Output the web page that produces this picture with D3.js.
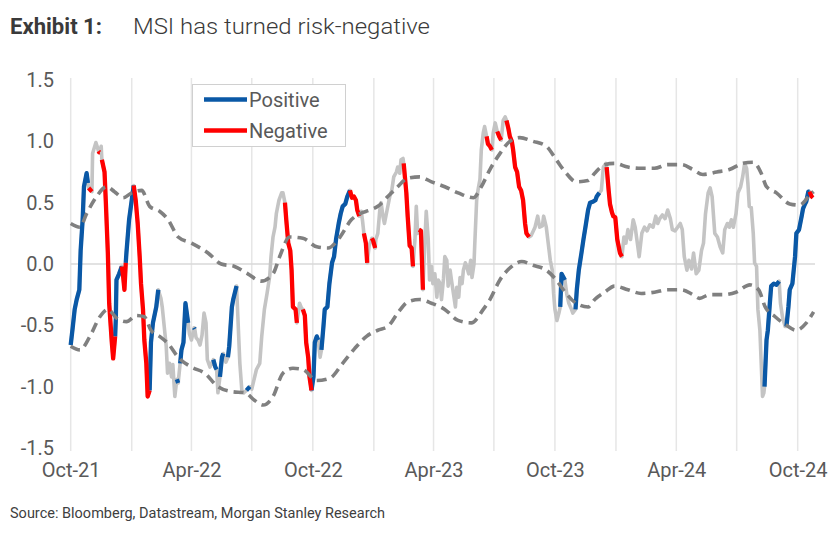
<!DOCTYPE html>
<html><head><meta charset="utf-8">
<script src="https://cdn.jsdelivr.net/npm/d3@7"></script>
<style>
body{margin:0;background:#fff;}
svg{display:block;font-family:Roboto,"Noto Sans",sans-serif;}
</style></head>
<body><svg id="c" width="837" height="552"></svg>
<script>
// ---- Data ----
const msiDates = [
"2021-10-01","2021-10-04","2021-10-07","2021-10-10","2021-10-14","2021-10-16","2021-10-19","2021-10-21","2021-10-25","2021-10-27",
"2021-10-28","2021-11-02","2021-11-03","2021-11-08","2021-11-12","2021-11-13","2021-11-14","2021-11-16","2021-11-17","2021-11-21",
"2021-11-23","2021-11-26","2021-11-28","2021-12-02","2021-12-04","2021-12-07","2021-12-08","2021-12-09","2021-12-13","2021-12-17",
"2021-12-19","2021-12-21","2021-12-23","2021-12-24","2021-12-28","2022-01-01","2022-01-04","2022-01-07","2022-01-10","2022-01-13",
"2022-01-15","2022-01-18","2022-01-20","2022-01-23","2022-01-25","2022-01-28","2022-01-30","2022-02-02","2022-02-07","2022-02-10",
"2022-02-14","2022-02-16","2022-02-22","2022-02-24","2022-02-27","2022-03-02","2022-03-04","2022-03-07","2022-03-10","2022-03-12",
"2022-03-15","2022-03-17","2022-03-20","2022-03-23","2022-03-27","2022-03-29","2022-04-01","2022-04-05","2022-04-06","2022-04-08",
"2022-04-11","2022-04-14","2022-04-17","2022-04-20","2022-04-23","2022-04-25","2022-04-29","2022-05-04","2022-05-07","2022-05-09",
"2022-05-11","2022-05-14","2022-05-17","2022-05-19","2022-05-23","2022-05-26","2022-05-28","2022-06-01","2022-06-03","2022-06-08",
"2022-06-10","2022-06-13","2022-06-16","2022-06-19","2022-06-23","2022-06-28","2022-07-01","2022-07-04","2022-07-08","2022-07-13",
"2022-07-16","2022-07-20","2022-07-24","2022-07-28","2022-07-30","2022-08-02","2022-08-05","2022-08-07","2022-08-11","2022-08-15",
"2022-08-17","2022-08-20","2022-08-22","2022-08-25","2022-08-28","2022-08-30","2022-09-01","2022-09-05","2022-09-07","2022-09-11",
"2022-09-14","2022-09-16","2022-09-19","2022-09-21","2022-09-24","2022-09-26","2022-09-29","2022-10-02","2022-10-04","2022-10-07",
"2022-10-09","2022-10-12","2022-10-14","2022-10-17","2022-10-19","2022-10-23","2022-10-26","2022-10-30","2022-11-02","2022-11-05",
"2022-11-09","2022-11-12","2022-11-15","2022-11-19","2022-11-22","2022-11-26","2022-11-29","2022-12-02","2022-12-05","2022-12-07",
"2022-12-10","2022-12-13","2022-12-15","2022-12-17","2022-12-20","2022-12-22","2022-12-25","2022-12-27","2022-12-29","2022-12-31",
"2023-01-03","2023-01-04","2023-01-07","2023-01-10","2023-01-12","2023-01-15","2023-01-17","2023-01-21","2023-01-25","2023-01-28",
"2023-01-31","2023-02-04","2023-02-06","2023-02-09","2023-02-11","2023-02-14","2023-02-15","2023-02-19","2023-02-21","2023-02-24",
"2023-02-27","2023-03-01","2023-03-04","2023-03-06","2023-03-08","2023-03-10","2023-03-13","2023-03-16","2023-03-19","2023-03-21",
"2023-03-24","2023-03-26","2023-03-29","2023-03-31","2023-04-03","2023-04-06","2023-04-08","2023-04-11","2023-04-13","2023-04-16",
"2023-04-18","2023-04-21","2023-04-23","2023-04-26","2023-04-28","2023-05-01","2023-05-04","2023-05-06","2023-05-09","2023-05-11",
"2023-05-14","2023-05-16","2023-05-19","2023-05-21","2023-05-24","2023-05-27","2023-05-29","2023-06-01","2023-06-02","2023-06-05",
"2023-06-07","2023-06-10","2023-06-12","2023-06-15","2023-06-17","2023-06-20","2023-06-22","2023-06-25","2023-06-28","2023-06-30",
"2023-07-03","2023-07-06","2023-07-09","2023-07-12","2023-07-15","2023-07-18","2023-07-20","2023-07-23","2023-07-25","2023-07-28",
"2023-07-30","2023-08-02","2023-08-05","2023-08-08","2023-08-11","2023-08-14","2023-08-17","2023-08-19","2023-08-23","2023-08-26",
"2023-09-01","2023-09-05","2023-09-08","2023-09-12","2023-09-14","2023-09-18","2023-09-22","2023-09-24","2023-09-27","2023-09-29",
"2023-10-01","2023-10-04","2023-10-07","2023-10-09","2023-10-11","2023-10-13","2023-10-16","2023-10-19","2023-10-22","2023-10-26",
"2023-10-28","2023-11-01","2023-11-03","2023-11-06","2023-11-10","2023-11-13","2023-11-16","2023-11-20","2023-11-23","2023-11-28",
"2023-12-01","2023-12-03","2023-12-07","2023-12-10","2023-12-13","2023-12-17","2023-12-18","2023-12-21","2023-12-23","2023-12-26",
"2023-12-28","2023-12-31","2024-01-03","2024-01-07","2024-01-10","2024-01-13","2024-01-16","2024-01-19","2024-01-23","2024-01-27",
"2024-01-30","2024-02-03","2024-02-05","2024-02-09","2024-02-13","2024-02-17","2024-02-21","2024-02-26","2024-03-01","2024-03-04",
"2024-03-07","2024-03-11","2024-03-15","2024-03-19","2024-03-23","2024-03-26","2024-03-30","2024-04-03","2024-04-07","2024-04-10",
"2024-04-13","2024-04-17","2024-04-20","2024-04-24","2024-04-27","2024-05-01","2024-05-05","2024-05-09","2024-05-12","2024-05-15",
"2024-05-19","2024-05-22","2024-05-25","2024-05-29","2024-06-02","2024-06-06","2024-06-10","2024-06-13","2024-06-17","2024-06-20",
"2024-06-23","2024-06-26","2024-06-30","2024-07-03","2024-07-07","2024-07-10","2024-07-13","2024-07-16","2024-07-18","2024-07-20",
"2024-07-23","2024-07-26","2024-07-28","2024-07-31","2024-08-02","2024-08-05","2024-08-07","2024-08-09","2024-08-11","2024-08-12",
"2024-08-15","2024-08-17","2024-08-20","2024-08-22","2024-08-26","2024-08-30","2024-09-03","2024-09-05","2024-09-08","2024-09-12",
"2024-09-14","2024-09-17","2024-09-19","2024-09-23","2024-09-27","2024-09-29","2024-10-03","2024-10-07","2024-10-09","2024-10-12",
"2024-10-14","2024-10-17","2024-10-19","2024-10-22","2024-10-24"
];
const msiValues = [
-0.66,-0.52,-0.37,-0.29,-0.21,0.11,0.36,0.63,0.74,0.66,
0.62,0.59,0.90,0.99,0.92,0.91,0.91,0.96,0.85,0.75,
0.50,0.09,-0.32,-0.64,-0.77,-0.59,-0.45,-0.13,-0.08,-0.02,
-0.10,-0.21,0.01,0.09,0.36,0.52,0.64,0.52,0.33,0.06,
-0.16,-0.37,-0.62,-0.81,-1.08,-1.03,-0.64,-0.48,-0.35,-0.21,
-0.28,-0.35,-0.67,-0.89,-0.81,-0.92,-0.82,-1.08,-0.94,-0.97,
-0.81,-0.70,-0.64,-0.32,-0.48,-0.57,-0.62,-0.52,-0.53,-0.60,
-0.62,-0.66,-0.58,-0.40,-0.48,-0.78,-0.84,-0.78,-0.84,-0.86,
-1.05,-0.92,-0.76,-0.73,-0.80,-0.76,-0.67,-0.35,-0.29,-0.18,
-0.43,-0.81,-1.03,-1.05,-1.03,-1.00,-1.02,-0.95,-0.86,-0.81,
-0.59,-0.37,-0.24,-0.10,0.06,0.22,0.30,0.41,0.52,0.58,
0.58,0.50,0.36,0.17,0.11,-0.05,-0.35,-0.37,-0.48,-0.32,
-0.36,-0.37,-0.42,-0.64,-0.76,-0.92,-1.03,-0.92,-0.64,-0.59,
-0.62,-0.76,-0.70,-0.51,-0.37,-0.35,-0.16,0.01,0.06,0.20,
0.33,0.41,0.47,0.49,0.55,0.60,0.54,0.55,0.52,0.44,
0.39,0.43,0.35,0.25,0.17,0.01,0.15,0.18,0.21,0.19,
0.13,0.20,0.25,0.44,0.50,0.38,0.33,0.44,0.55,0.60,
0.71,0.75,0.79,0.74,0.85,0.86,0.82,0.58,0.39,0.15,
0.13,-0.02,0.20,0.47,0.25,0.28,0.27,-0.21,0.20,0.43,
0.20,-0.13,-0.02,-0.16,-0.08,-0.27,-0.13,-0.16,-0.29,-0.12,
0.06,0.03,-0.18,-0.05,-0.13,-0.24,-0.35,-0.19,-0.27,-0.11,
-0.16,-0.05,0.01,-0.02,-0.08,0.03,-0.11,0.00,0.14,0.52,
0.60,0.69,0.93,1.07,1.12,1.04,0.98,0.96,0.93,1.07,
1.15,1.08,1.04,1.01,1.17,1.20,1.17,1.10,1.04,1.00,
0.93,0.79,0.75,0.63,0.60,0.52,0.33,0.25,0.22,0.23,
0.30,0.39,0.30,0.31,0.39,0.30,0.12,0.03,-0.05,-0.24,
-0.37,-0.46,-0.40,-0.35,-0.08,-0.10,-0.13,-0.25,-0.32,-0.37,
-0.40,-0.37,-0.21,-0.05,0.09,0.20,0.30,0.44,0.50,0.51,
0.52,0.55,0.58,0.60,0.79,0.82,0.79,0.60,0.49,0.42,
0.39,0.38,0.20,0.09,0.06,0.22,0.17,0.28,0.20,0.36,
0.30,0.14,0.06,0.25,0.30,0.27,0.32,0.30,0.39,0.33,
0.37,0.40,0.37,0.44,0.37,0.28,0.27,0.30,0.33,0.28,
0.06,-0.05,0.03,-0.04,0.09,-0.08,-0.05,0.11,0.17,0.41,
0.58,0.62,0.55,0.25,0.22,0.14,0.09,0.28,0.33,0.30,
0.36,0.30,0.41,0.58,0.63,0.71,0.82,0.78,0.65,0.47,
0.46,0.25,0.01,-0.02,-0.37,-0.54,-0.81,-1.08,-1.05,-1.00,
-0.62,-0.54,-0.32,-0.18,-0.16,-0.17,-0.14,-0.32,-0.43,-0.51,
-0.51,-0.35,-0.21,-0.16,0.06,0.25,0.28,0.39,0.45,0.49,
0.51,0.59,0.59,0.55,0.54
];
// Regime periods (start, end) in which the MSI line is coloured
const positivePeriods = [
["2021-10-01","2021-10-27"],["2021-12-07","2021-12-17"],["2021-12-23","2022-01-04"],
["2022-01-28","2022-02-10"],["2022-03-10","2022-03-12"],["2022-03-15","2022-03-27"],
["2022-04-05","2022-04-06"],["2022-05-04","2022-05-09"],["2022-05-14","2022-05-19"],
["2022-05-26","2022-06-08"],["2022-06-23","2022-06-28"],["2022-09-29","2022-10-09"],
["2022-10-14","2022-11-26"],["2023-10-09","2023-10-16"],["2023-11-01","2023-12-07"],
["2024-08-12","2024-09-03"],["2024-09-14","2024-10-19"]
];
const negativePeriods = [
["2021-10-28","2021-11-02"],["2021-11-12","2021-11-14"],["2021-11-17","2021-12-07"],
["2021-12-17","2021-12-23"],["2022-01-04","2022-01-28"],["2022-08-20","2022-09-07"],
["2022-09-16","2022-09-29"],["2022-11-26","2022-12-10"],["2022-12-17","2022-12-22"],
["2022-12-29","2023-01-03"],["2023-02-15","2023-03-01"],["2023-03-10","2023-03-16"],
["2023-06-20","2023-06-28"],["2023-07-06","2023-07-12"],["2023-07-20","2023-08-23"],
["2023-12-18","2024-01-10"],["2024-10-19","2024-10-24"]
];
const upperDates = ["2021-10-01","2021-10-15","2021-10-25","2021-11-09","2021-11-24","2021-12-06","2021-12-19","2022-01-01","2022-01-16","2022-01-28",
"2022-02-12","2022-02-25","2022-03-12","2022-04-01","2022-04-26","2022-05-16","2022-06-05","2022-06-25","2022-07-15","2022-08-02",
"2022-08-12","2022-08-27","2022-09-16","2022-10-07","2022-10-24","2022-11-11","2022-11-28","2022-12-11","2022-12-26","2023-01-07",
"2023-01-22","2023-02-06","2023-02-21","2023-03-11","2023-03-29","2023-04-18","2023-05-08","2023-05-31","2023-06-12","2023-06-25",
"2023-07-10","2023-07-25","2023-08-09","2023-08-29","2023-09-18","2023-10-03","2023-10-18","2023-11-02","2023-11-20","2023-11-30",
"2023-12-15","2023-12-30","2024-01-19","2024-02-08","2024-02-28","2024-03-19","2024-04-09","2024-04-26","2024-05-11","2024-06-01",
"2024-06-20","2024-07-10","2024-07-26","2024-08-07","2024-08-15","2024-08-30","2024-09-19","2024-10-04","2024-10-19","2024-10-25"];
const upperValues = [0.33,0.30,0.41,0.55,0.63,0.59,0.54,0.58,0.60,0.47,
0.43,0.36,0.22,0.17,0.09,0.00,-0.02,-0.08,-0.14,-0.08,
0.06,0.22,0.21,0.14,0.13,0.22,0.36,0.41,0.44,0.47,
0.55,0.63,0.70,0.71,0.67,0.63,0.58,0.54,0.63,0.77,
0.90,1.00,1.03,1.00,0.96,0.85,0.74,0.67,0.68,0.74,
0.81,0.82,0.79,0.78,0.78,0.81,0.81,0.77,0.73,0.75,
0.77,0.82,0.83,0.74,0.63,0.58,0.49,0.48,0.56,0.59];
const lowerDates = ["2021-10-01","2021-10-15","2021-10-30","2021-11-14","2021-11-26","2021-12-09","2021-12-24","2022-01-08","2022-01-20","2022-01-30",
"2022-02-12","2022-02-25","2022-03-12","2022-04-01","2022-04-21","2022-05-11","2022-05-31","2022-06-21","2022-07-05","2022-07-18",
"2022-08-02","2022-08-17","2022-09-01","2022-09-16","2022-10-07","2022-10-27","2022-11-15","2022-12-03","2022-12-21","2023-01-07",
"2023-01-22","2023-02-06","2023-02-21","2023-03-11","2023-03-29","2023-04-18","2023-05-08","2023-05-28","2023-06-15","2023-06-25",
"2023-07-10","2023-07-28","2023-08-12","2023-08-29","2023-09-18","2023-10-03","2023-10-18","2023-11-02","2023-11-20","2023-11-30",
"2023-12-15","2023-12-30","2024-01-19","2024-02-08","2024-02-28","2024-03-19","2024-04-09","2024-04-26","2024-05-06","2024-05-21",
"2024-06-10","2024-06-30","2024-07-21","2024-08-03","2024-08-13","2024-08-28","2024-09-14","2024-09-29","2024-10-14","2024-10-25"];
const lowerValues = [-0.67,-0.70,-0.59,-0.43,-0.37,-0.44,-0.47,-0.42,-0.43,-0.54,
-0.59,-0.65,-0.76,-0.84,-0.89,-1.00,-1.04,-1.05,-1.11,-1.15,
-1.08,-0.89,-0.85,-0.86,-0.95,-0.93,-0.81,-0.69,-0.59,-0.54,
-0.51,-0.40,-0.31,-0.29,-0.32,-0.37,-0.46,-0.48,-0.37,-0.29,
-0.13,-0.02,0.02,-0.01,-0.05,-0.13,-0.24,-0.32,-0.35,-0.29,
-0.23,-0.18,-0.21,-0.24,-0.23,-0.21,-0.21,-0.25,-0.28,-0.25,
-0.25,-0.23,-0.17,-0.21,-0.35,-0.43,-0.50,-0.54,-0.48,-0.39];
const yTicks = [-1.5,-1.0,-0.5,0.0,0.5,1.0,1.5];
const xLabelDates = ["2021-10-01","2022-04-01","2022-10-01","2023-04-01","2023-10-01","2024-04-01","2024-10-01"];
const legendItems = [{name:"Positive",color:"#0a58a6"},{name:"Negative",color:"#ff0000"}];

// ---- Drawing ----
const parse = d3.timeParse("%Y-%m-%d");
const svg = d3.select("#c");
const x = d3.scaleTime().domain([parse("2021-10-01"), parse("2024-10-01")]).range([70.7, 797.7]);
const y = d3.scaleLinear().domain([-1.5, 1.5]).range([448, 80]);
const msi = msiDates.map((d,i)=>({date:parse(d), v:msiValues[i]}));
const upper = upperDates.map((d,i)=>({date:parse(d), v:upperValues[i]}));
const lower = lowerDates.map((d,i)=>({date:parse(d), v:lowerValues[i]}));

// title
svg.append("text").attr("x",10).attr("y",34).attr("fill","#3a3a3a").style("font-size","22px")
  .attr("font-weight","bold").attr("textLength",92).attr("lengthAdjust","spacingAndGlyphs").text("Exhibit 1:");
svg.append("text").attr("x",133).attr("y",34).attr("fill","#3a3a3a").style("font-size","22px")
  .attr("font-weight",300).attr("textLength",297).attr("lengthAdjust","spacingAndGlyphs").text("MSI has turned risk-negative");

// vertical gridlines (quarterly)
const grid = x.ticks(d3.timeMonth.every(3));
svg.append("g").selectAll("line").data(grid).join("line")
  .attr("x1",d=>x(d)).attr("x2",d=>x(d)).attr("y1",78).attr("y2",451)
  .attr("stroke","#e6e6e6").attr("stroke-width",1.5);
// zero line
svg.append("line").attr("x1",70.7).attr("x2",815).attr("y1",y(0)).attr("y2",y(0))
  .attr("stroke","#d9d9d9").attr("stroke-width",1.3);

// y axis
const yAxis = d3.axisLeft(y).tickValues(yTicks).tickSize(0).tickPadding(0)
  .tickFormat(d=>d3.format(".1f")(d).replace("\u2212","-"));
const gy = svg.append("g").attr("transform","translate(54,0)").call(yAxis);
gy.select(".domain").remove();
gy.selectAll("text").attr("fill","#595959").style("font-size","20px").style("font-family","Roboto");

// x axis
const xAxis = d3.axisBottom(x).tickValues(xLabelDates.map(parse)).tickSize(0).tickPadding(0)
  .tickFormat(d3.timeFormat("%b-%y"));
const gx = svg.append("g").attr("transform","translate(0,463)").call(xAxis);
gx.select(".domain").remove();
gx.selectAll("text").attr("fill","#595959").style("font-size","20px").style("font-family","Roboto");

// lines
const line = d3.line().x(d=>x(d.date)).y(d=>y(d.v));
const band = d3.line().x(d=>x(d.date)).y(d=>y(d.v)).curve(d3.curveMonotoneX);
svg.append("path").datum(msi).attr("d",line).attr("fill","none")
  .attr("stroke","#c4c4c4").attr("stroke-width",3.6).attr("stroke-linejoin","round");
function drawPeriods(periods,color){
  periods.forEach(([s,e])=>{
    const s0=parse(s), e0=parse(e);
    const pts = msi.filter(d=>d.date>=s0 && d.date<=e0);
    if(pts.length<2) return;
    svg.append("path").datum(pts).attr("d",line).attr("fill","none")
      .attr("stroke",color).attr("stroke-width",4.3).attr("stroke-linejoin","round");
  });
}
drawPeriods(positivePeriods, legendItems[0].color);
drawPeriods(negativePeriods, legendItems[1].color);
[upper, lower].forEach(b=>{
  svg.append("path").datum(b).attr("d",band).attr("fill","none")
    .attr("stroke","#808080").attr("stroke-width",3.6).attr("stroke-dasharray","10,6");
});

// legend
const lg = svg.append("g");
lg.append("rect").attr("x",192.5).attr("y",84.5).attr("width",153).attr("height",62)
  .attr("fill","#fff").attr("stroke","#d0d0d0").attr("stroke-width",1);
legendItems.forEach((it,i)=>{
  const yy = 99.5 + i*31;
  lg.append("line").attr("x1",204).attr("x2",247).attr("y1",yy).attr("y2",yy)
    .attr("stroke",it.color).attr("stroke-width",4.3);
  lg.append("text").attr("x",249).attr("y",yy+7).attr("fill","#595959")
    .style("font-size","20px").text(it.name);
});

// source
svg.append("text").attr("x",10).attr("y",518).attr("fill","#404040").style("font-size","14px")
  .attr("textLength",375).attr("lengthAdjust","spacingAndGlyphs")
  .text("Source: Bloomberg, Datastream, Morgan Stanley Research");
</script></body></html>
